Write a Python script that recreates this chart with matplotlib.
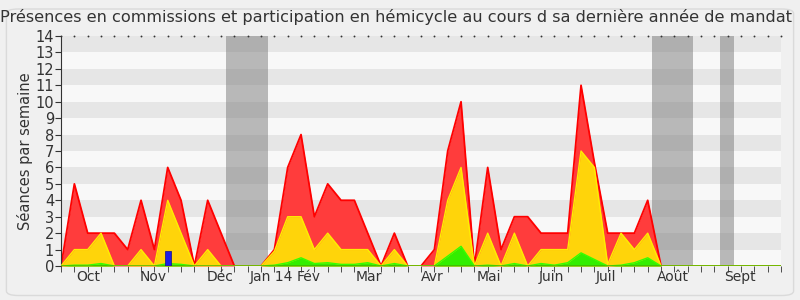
import numpy as np
import matplotlib.pyplot as plt
from matplotlib.patches import FancyBboxPatch

# weekly values, week 0 = start of the period
total = [0, 5, 2, 2, 2, 1, 4, 1, 6, 4, 0, 4, 2, 0, 0, 0, 1, 6, 8, 3, 5, 4, 4, 2, 0, 2, 0, 0,
         1, 7, 10, 0, 6, 1, 3, 3, 2, 2, 2, 11, 6.3, 2, 2, 2, 4, 0, 0, 0, 0, 0, 0, 0, 0, 0, 0]
commissions = [0, 1, 1, 2, 0, 0, 1, 0, 4, 2, 0, 1, 0, 0, 0, 0, 0.9, 3, 3, 1, 2, 1, 1, 1, 0, 1, 0, 0,
               0, 4, 6, 0, 2, 0, 2, 0, 1, 1, 1, 7, 6, 0.1, 2, 1, 2, 0, 0, 0, 0, 0, 0, 0, 0, 0, 0]
hemicycle = [0, 0.05, 0.05, 0.15, 0, 0, 0, 0, 0.15, 0.1, 0, 0, 0, 0, 0, 0, 0.05, 0.2, 0.5, 0.15, 0.2, 0.1, 0.1, 0.2, 0, 0.15, 0, 0,
             0, 0.6, 1.2, 0, 0.05, 0, 0.15, 0, 0.15, 0.05, 0.2, 0.8, 0.4, 0, 0.05, 0.2, 0.5, 0, 0, 0, 0, 0, 0, 0, 0, 0, 0]
blue_week = [8]
blue_value = [0.9]

month_labels = ["Oct", "Nov", "Déc", "Jan 14", "Fév", "Mar", "Avr", "Mai", "Juin", "Juil", "Août", "Sept"]
month_pos = [2.05, 6.9, 11.95, 15.75, 18.6, 23.1, 27.85, 32.1, 36.8, 40.9, 45.9, 50.9]

# holiday spans (in weeks)
holidays = [(12.4, 15.5), (44.35, 47.4), (49.4, 50.45)]

weeks = np.arange(len(total))

fig = plt.figure(figsize=(8, 3), dpi=100, facecolor="#f0f0f0")
fig.patches.append(FancyBboxPatch((0.008, 0.015), 0.984, 0.955, boxstyle="round,pad=0,rounding_size=0.015",
                                  transform=fig.transFigure, facecolor="#f0f0f0", edgecolor="#dadada",
                                  linewidth=1, zorder=-1))
ax = fig.add_axes([0.0763, 0.1133, 0.9, 0.7667])
ax.set_facecolor("#f8f8f8")

for y in range(1, 14, 2):
    ax.axhspan(y, y + 1, color="#e6e6e6", zorder=0, lw=0)
for a, b in holidays:
    ax.axvspan(a, b, color="#7a7a7a", alpha=0.5, zorder=1, lw=0)

ax.fill_between(weeks, total, color="#ff3c3c", zorder=2, lw=0)
ax.plot(weeks, total, color="#ff0000", lw=1.3, zorder=2)
ax.fill_between(weeks, commissions, color="#ffd40a", zorder=3, lw=0)
ax.plot(weeks, commissions, color="#ffee00", lw=1, zorder=3)
ax.fill_between(weeks, hemicycle, color="#33ee00", zorder=4, lw=0)
ax.plot(weeks, hemicycle, color="#33ff00", lw=1, zorder=4)
ax.bar(blue_week, blue_value, width=0.45, color="#1e1ee6", edgecolor="#10108a", lw=0.5, zorder=5)
ax.axhline(0, color="#800000", lw=1, zorder=6)

ax.set_xlim(0, 54)
ax.set_ylim(0, 14)
ax.set_yticks(range(15))
ax.set_xticks(weeks, minor=True)
ax.set_xticks(month_pos)
ax.set_xticklabels(month_labels)
ax.tick_params(axis="x", which="major", length=0, labelsize=10, colors="#333333", pad=3)
ax.tick_params(axis="x", which="minor", length=4, direction="out", color="#333333", top=True)
ax.tick_params(axis="y", length=4, labelsize=10.5, colors="#333333", pad=1)
for t in ax.xaxis.get_minor_ticks():
    t.tick2line.set_markersize(1.5)
    t.tick2line.set_marker(".")
ax.set_ylabel("Séances par semaine", fontsize=10.5, color="#333333", labelpad=2)
for s in ["top", "right"]:
    ax.spines[s].set_visible(False)
ax.spines["left"].set_color("#333333")
ax.spines["bottom"].set_visible(False)

fig.text(0.495, 0.943, "Présences en commissions et participation en hémicycle au cours d sa dernière année de mandat",
         ha="center", va="center", fontsize=11.6, color="#333333")

fig.savefig("out.png", dpi=100, facecolor=fig.get_facecolor())
